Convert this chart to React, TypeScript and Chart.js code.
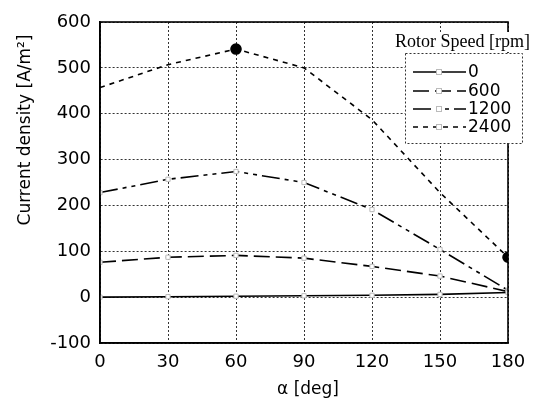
import React, { useEffect, useRef } from "react";
import { Chart, registerables } from "chart.js";
Chart.register(...registerables);

const angles = [0, 30, 60, 90, 120, 150, 180];
const rpm0 = [0, 1, 2, 3, 4, 6, 10];
const rpm600 = [76, 87, 91, 85, 67, 46, 12];
const rpm1200 = [228, 257, 274, 250, 191, 104, 15];
const rpm2400 = [457, 507, 541, 500, 387, 228, 87];
const seriesLabels = ["0", "600", "1200", "2400"];
const marked2400 = [false, false, true, false, false, false, true];
const legendTitle = "Rotor Speed [rpm]";
const xTitle = "α [deg]";
const yTitle = "Current density [A/m²]";

const FONT = '"DejaVu Sans", sans-serif';

export default function App() {
  const ref = useRef<HTMLCanvasElement | null>(null);
  useEffect(() => {
    const canvas = ref.current!;
    const mk = (vals: number[]) => angles.map((a, i) => ({ x: a, y: vals[i] }));
    const sqPoint = {
      pointStyle: "rect" as const,
      pointRadius: 3,
      pointBackgroundColor: "#fff",
      pointBorderColor: "#bbb",
      pointBorderWidth: 1,
    };
    const dashes = [[], [16, 6], [18, 5, 4, 5, 4, 5], [5, 5]];
    const overlay = {
      id: "overlay",
      afterDraw(chart: any) {
        const ctx = chart.ctx as CanvasRenderingContext2D;
        ctx.save();
        ctx.fillStyle = "#000";
        // y title
        ctx.save();
        ctx.translate(26, 130);
        ctx.rotate(-Math.PI / 2);
        ctx.font = "17px " + FONT;
        ctx.textAlign = "center";
        ctx.textBaseline = "middle";
        ctx.fillText(yTitle, 0, 0);
        ctx.restore();
        // x title
        ctx.font = "17px " + FONT;
        ctx.textAlign = "center";
        ctx.textBaseline = "middle";
        ctx.fillText(xTitle, 308, 390);
        // legend title with white backing
        ctx.font = '18px "Liberation Serif", serif';
        const tw = ctx.measureText(legendTitle).width;
        ctx.fillStyle = "#fff";
        ctx.fillRect(393, 32, tw + 4, 20);
        ctx.fillStyle = "#000";
        ctx.textAlign = "left";
        ctx.fillText(legendTitle, 395, 42);
        // legend box
        ctx.fillStyle = "#fff";
        ctx.fillRect(405, 53, 117, 90);
        ctx.strokeStyle = "#333";
        ctx.lineWidth = 1;
        ctx.setLineDash([2, 2]);
        ctx.strokeRect(405.5, 53.5, 117, 90);
        ctx.setLineDash([]);
        const rows = [72, 91, 109, 127];
        chart.data.datasets.forEach((ds: any, i: number) => {
          const y = rows[i];
          ctx.strokeStyle = "#000";
          ctx.lineWidth = 1.6;
          ctx.setLineDash(ds.borderDash || []);
          ctx.beginPath();
          ctx.moveTo(413, y);
          ctx.lineTo(466, y);
          ctx.stroke();
          ctx.setLineDash([]);
          ctx.fillStyle = "#fff";
          ctx.strokeStyle = "#bbb";
          ctx.lineWidth = 1;
          ctx.fillRect(436, y - 3, 6, 6);
          ctx.strokeRect(436.5, y - 2.5, 5, 5);
          ctx.fillStyle = "#000";
          ctx.font = "17px " + FONT;
          ctx.textAlign = "left";
          ctx.textBaseline = "middle";
          ctx.fillText(ds.label, 468, y + 1);
        });
        ctx.restore();
      },
    };
    const chart = new Chart(canvas, {
      type: "line",
      data: {
        datasets: [
          { label: seriesLabels[0], data: mk(rpm0), borderColor: "#000", borderWidth: 1.6, borderDash: dashes[0], ...sqPoint },
          { label: seriesLabels[1], data: mk(rpm600), borderColor: "#000", borderWidth: 1.6, borderDash: dashes[1], ...sqPoint },
          { label: seriesLabels[2], data: mk(rpm1200), borderColor: "#000", borderWidth: 1.6, borderDash: dashes[2], ...sqPoint },
          {
            label: seriesLabels[3],
            data: mk(rpm2400),
            borderColor: "#000",
            borderWidth: 1.6,
            borderDash: dashes[3],
            pointStyle: "circle",
            pointRadius: marked2400.map((m) => (m ? 5 : 0)),
            pointBackgroundColor: "#000",
            pointBorderColor: "#000",
          },
        ],
      },
      options: {
        animation: false,
        responsive: false,
        layout: { padding: { top: 22, right: 35, left: 0, bottom: 0 } },
        plugins: { legend: { display: false }, tooltip: { enabled: false } },
        scales: {
          x: {
            type: "linear",
            min: 0,
            max: 180,
            ticks: { stepSize: 30, color: "#000", font: { family: FONT, size: 18 }, padding: 9, maxRotation: 0 },
            grid: { color: "#333", lineWidth: 1, drawTicks: false },
            border: { color: "#000", width: 1.6, dash: [2, 2] },
            afterFit: (s: any) => { s.height = 59; },
          },
          y: {
            min: -100,
            max: 600,
            ticks: { stepSize: 100, color: "#000", font: { family: FONT, size: 18 }, padding: 9 },
            grid: { color: "#333", lineWidth: 1, drawTicks: false },
            border: { color: "#000", width: 1.6, dash: [2, 2] },
            afterFit: (s: any) => { s.width = 100; },
          },
        },
      },
      plugins: [
        {
          id: "bg",
          beforeDraw(chart: any) {
            const { ctx } = chart;
            ctx.save();
            ctx.fillStyle = "#fff";
            ctx.fillRect(0, 0, chart.width, chart.height);
            ctx.restore();
          },
        },
        {
          id: "frame",
          afterDatasetsDraw(chart: any) {
            const { ctx, chartArea: a } = chart;
            ctx.save();
            ctx.setLineDash([]);
            ctx.strokeStyle = "#000";
            ctx.lineWidth = 1.6;
            ctx.strokeRect(a.left, a.top, a.right - a.left, a.bottom - a.top);
            ctx.restore();
          },
        },
        overlay,
      ],
    } as any);
    return () => chart.destroy();
  }, []);
  return (
    <div style={{ position: "absolute", left: 0, top: 0, width: 543, height: 402, background: "#fff" }}>
      <canvas ref={ref} width={543} height={402} />
    </div>
  );
}
